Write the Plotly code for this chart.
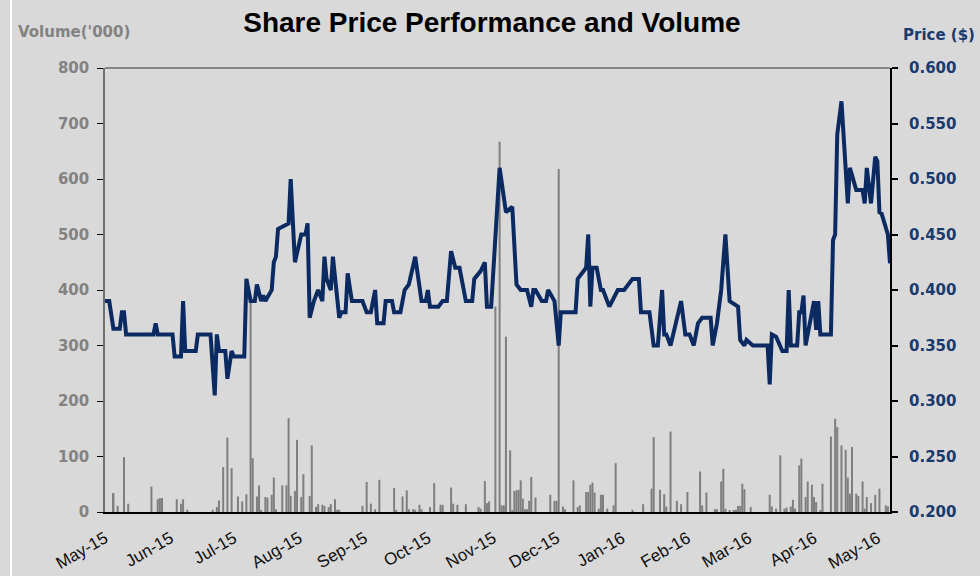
import plotly.graph_objects as go

# ---------------- data ----------------
price_dates = [
    "2015-05-01", "2015-05-03", "2015-05-05", "2015-05-08", "2015-05-09", "2015-05-10", "2015-05-11", "2015-05-24", "2015-05-25", "2015-05-26",
    "2015-06-02", "2015-06-03", "2015-06-06", "2015-06-07", "2015-06-08", "2015-06-13", "2015-06-14", "2015-06-20", "2015-06-22", "2015-06-23",
    "2015-06-24", "2015-06-27", "2015-06-28", "2015-06-30", "2015-07-01", "2015-07-06", "2015-07-07", "2015-07-09", "2015-07-11", "2015-07-12",
    "2015-07-14", "2015-07-15", "2015-07-16", "2015-07-19", "2015-07-20", "2015-07-21", "2015-07-22", "2015-07-27", "2015-07-28", "2015-07-30",
    "2015-08-02", "2015-08-04", "2015-08-05", "2015-08-06", "2015-08-08", "2015-08-10", "2015-08-12", "2015-08-13", "2015-08-14", "2015-08-16",
    "2015-08-17", "2015-08-20", "2015-08-21", "2015-08-23", "2015-08-24", "2015-08-26", "2015-08-31", "2015-09-02", "2015-09-04", "2015-09-06",
    "2015-09-07", "2015-09-10", "2015-09-11", "2015-09-14", "2015-09-15", "2015-09-18", "2015-09-20", "2015-09-22", "2015-09-25", "2015-09-28",
    "2015-09-30", "2015-10-01", "2015-10-02", "2015-10-06", "2015-10-08", "2015-10-10", "2015-10-12", "2015-10-14", "2015-10-16", "2015-10-19",
    "2015-10-22", "2015-10-23", "2015-10-26", "2015-10-28", "2015-10-29", "2015-10-31", "2015-11-04", "2015-11-07", "2015-11-10", "2015-11-12",
    "2015-11-14", "2015-11-17", "2015-11-19", "2015-11-20", "2015-11-21", "2015-11-24", "2015-11-26", "2015-11-27", "2015-11-30", "2015-12-02",
    "2015-12-03", "2015-12-10", "2015-12-11", "2015-12-15", "2015-12-16", "2015-12-17", "2015-12-18", "2015-12-20", "2015-12-22", "2015-12-23",
    "2015-12-26", "2015-12-30", "2016-01-02", "2016-01-06", "2016-01-09", "2016-01-10", "2016-01-14", "2016-01-16", "2016-01-18", "2016-01-20",
    "2016-01-21", "2016-01-22", "2016-01-24", "2016-01-28", "2016-01-29", "2016-01-31", "2016-02-02", "2016-02-04", "2016-02-06", "2016-02-08",
    "2016-02-12", "2016-02-13", "2016-02-15", "2016-02-17", "2016-02-19", "2016-02-21", "2016-02-25", "2016-02-26", "2016-02-28", "2016-02-29",
    "2016-03-03", "2016-03-10", "2016-03-11", "2016-03-12", "2016-03-14", "2016-03-17", "2016-03-19", "2016-03-20", "2016-03-21", "2016-03-24",
    "2016-03-25", "2016-03-26", "2016-03-27", "2016-03-28", "2016-03-30", "2016-04-01", "2016-04-02", "2016-04-03", "2016-04-04", "2016-04-09",
    "2016-04-10", "2016-04-11", "2016-04-12", "2016-04-14", "2016-04-17", "2016-04-18", "2016-04-21", "2016-04-24", "2016-04-25", "2016-04-26",
    "2016-04-28", "2016-04-30", "2016-05-01", "2016-05-02", "2016-05-03", "2016-05-06", "2016-05-07",
]
price_values = [
    0.39, 0.39, 0.365, 0.365, 0.38, 0.38, 0.36, 0.36, 0.37, 0.36,
    0.36, 0.34, 0.34, 0.39, 0.345, 0.345, 0.36, 0.36, 0.305, 0.36,
    0.345, 0.345, 0.32, 0.345, 0.34, 0.34, 0.41, 0.39, 0.39, 0.405,
    0.39, 0.395, 0.39, 0.40, 0.425, 0.43, 0.455, 0.46, 0.50, 0.425,
    0.45, 0.45, 0.46, 0.375, 0.39, 0.40, 0.39, 0.43, 0.41, 0.40,
    0.43, 0.375, 0.38, 0.38, 0.415, 0.39, 0.39, 0.38, 0.38, 0.40,
    0.37, 0.37, 0.39, 0.39, 0.38, 0.38, 0.40, 0.405, 0.43, 0.39,
    0.39, 0.40, 0.385, 0.385, 0.39, 0.39, 0.435, 0.42, 0.42, 0.39,
    0.39, 0.41, 0.417, 0.425, 0.385, 0.385, 0.51, 0.47, 0.475, 0.405,
    0.40, 0.40, 0.385, 0.40, 0.40, 0.39, 0.39, 0.40, 0.39, 0.35,
    0.38, 0.38, 0.41, 0.42, 0.45, 0.385, 0.42, 0.42, 0.40, 0.40,
    0.385, 0.40, 0.40, 0.41, 0.41, 0.38, 0.38, 0.35, 0.35, 0.40,
    0.36, 0.36, 0.35, 0.38, 0.39, 0.36, 0.36, 0.35, 0.37, 0.375,
    0.375, 0.35, 0.37, 0.40, 0.45, 0.39, 0.385, 0.355, 0.35, 0.355,
    0.35, 0.35, 0.315, 0.36, 0.358, 0.345, 0.345, 0.40, 0.35, 0.35,
    0.38, 0.38, 0.395, 0.35, 0.37, 0.39, 0.364, 0.39, 0.36, 0.36,
    0.445, 0.45, 0.54, 0.57, 0.478, 0.51, 0.49, 0.49, 0.478, 0.51,
    0.478, 0.52, 0.516, 0.47, 0.469, 0.45, 0.424,
]

volume_dates = [
    "2015-05-05", "2015-05-07", "2015-05-10", "2015-05-12", "2015-05-23", "2015-05-26", "2015-05-27", "2015-05-28",
    "2015-06-04", "2015-06-06", "2015-06-07", "2015-06-09", "2015-06-21", "2015-06-23", "2015-06-24", "2015-06-26", "2015-06-28", "2015-06-30",
    "2015-07-03", "2015-07-05", "2015-07-07", "2015-07-09", "2015-07-10", "2015-07-12", "2015-07-13", "2015-07-14", "2015-07-16", "2015-07-17",
    "2015-07-19", "2015-07-20", "2015-07-21", "2015-07-24", "2015-07-26", "2015-07-27", "2015-07-28", "2015-07-30", "2015-07-31",
    "2015-08-02", "2015-08-03", "2015-08-06", "2015-08-07", "2015-08-09", "2015-08-10", "2015-08-12", "2015-08-13", "2015-08-15", "2015-08-16",
    "2015-08-18", "2015-08-19", "2015-08-20", "2015-08-31",
    "2015-09-02", "2015-09-04", "2015-09-06", "2015-09-08", "2015-09-15", "2015-09-16", "2015-09-19", "2015-09-21", "2015-09-22", "2015-09-24",
    "2015-09-25", "2015-09-27", "2015-09-28",
    "2015-10-02", "2015-10-04", "2015-10-07", "2015-10-08", "2015-10-12", "2015-10-13", "2015-10-15", "2015-10-19", "2015-10-25", "2015-10-26",
    "2015-10-28", "2015-10-29", "2015-10-30",
    "2015-11-02", "2015-11-04", "2015-11-05", "2015-11-06", "2015-11-07", "2015-11-09", "2015-11-10", "2015-11-11", "2015-11-12", "2015-11-13",
    "2015-11-14", "2015-11-15", "2015-11-16", "2015-11-17", "2015-11-18", "2015-11-19", "2015-11-21", "2015-11-28", "2015-11-30",
    "2015-12-01", "2015-12-02", "2015-12-04", "2015-12-05", "2015-12-09", "2015-12-11", "2015-12-12", "2015-12-15", "2015-12-16", "2015-12-17",
    "2015-12-18", "2015-12-19", "2015-12-21", "2015-12-22", "2015-12-23", "2015-12-25", "2015-12-28", "2015-12-29",
    "2016-01-06", "2016-01-11", "2016-01-15", "2016-01-16", "2016-01-19", "2016-01-21", "2016-01-22", "2016-01-24", "2016-01-27", "2016-01-29",
    "2016-02-01", "2016-02-07", "2016-02-08", "2016-02-10", "2016-02-14", "2016-02-15", "2016-02-17", "2016-02-18", "2016-02-19", "2016-02-21",
    "2016-02-23", "2016-02-24", "2016-02-25", "2016-02-26", "2016-02-27", "2016-02-28",
    "2016-03-02", "2016-03-11", "2016-03-12", "2016-03-14", "2016-03-16", "2016-03-18", "2016-03-19", "2016-03-21", "2016-03-22", "2016-03-23",
    "2016-03-25", "2016-03-26", "2016-03-28", "2016-03-29", "2016-03-31",
    "2016-04-01", "2016-04-02", "2016-04-04", "2016-04-05", "2016-04-09", "2016-04-11", "2016-04-12", "2016-04-14", "2016-04-16", "2016-04-17",
    "2016-04-18", "2016-04-19", "2016-04-21", "2016-04-22", "2016-04-24", "2016-04-25", "2016-04-26", "2016-04-28", "2016-04-30",
    "2016-05-02", "2016-05-05", "2016-05-06",
]
volume_values = [
    34, 11, 99, 15, 46, 23, 25, 25,
    23, 15, 23, 4, 4, 9, 21, 81, 134, 79,
    28, 19, 32, 390, 97, 28, 48, 4, 27, 26,
    31, 62, 5, 48, 48, 169, 29, 38, 130,
    27, 68, 29, 120, 9, 14, 13, 11, 9, 14,
    23, 4, 4, 11,
    54, 15, 5, 58, 43, 4, 28, 39, 5, 5,
    4, 13, 5,
    9, 52, 13, 13, 44, 15, 13, 14, 9, 6,
    56, 16, 19,
    370, 667, 12, 12, 316, 111, 3, 38, 39, 40,
    57, 24, 5, 5, 20, 63, 26, 31, 20,
    20, 618, 10, 5, 57, 9, 12, 36, 36, 49,
    53, 35, 6, 31, 31, 6, 12, 88,
    4, 14, 42, 135, 40, 32, 10, 145, 20, 14,
    36, 73, 12, 35, 5, 5, 55, 78, 6, 2,
    2, 4, 11, 11, 51, 41,
    9, 31, 10, 6, 102, 6, 8, 10, 22, 6,
    84, 96, 27, 55, 49,
    27, 18, 2, 51, 136, 168, 153, 120, 112, 62,
    33, 117, 33, 29, 55, 6, 27, 16, 31,
    42, 12, 10,
]

month_ticks = ["2015-05-01", "2015-06-01", "2015-07-01", "2015-08-01", "2015-09-01", "2015-10-01", "2015-11-01",
               "2015-12-01", "2016-01-01", "2016-02-01", "2016-03-01", "2016-04-01", "2016-05-01"]
month_labels = ["May-15", "Jun-15", "Jul-15", "Aug-15", "Sep-15", "Oct-15", "Nov-15",
                "Dec-15", "Jan-16", "Feb-16", "Mar-16", "Apr-16", "May-16"]

assert len(price_dates) == len(price_values)
assert len(volume_dates) == len(volume_values)

# ---------------- styling ----------------
FONT = "Liberation Sans, Arial, sans-serif"
WIDE = "DejaVu Sans, Verdana, sans-serif"
BG = "#d9d9d9"
NAVY = "#0b2a62"
NAVY_TEXT = "#1a3a6e"
GRAY_TEXT = "#828282"
BAR = "#7f7f7f"

fig = go.Figure()
fig.add_trace(go.Bar(
    x=volume_dates, y=volume_values, yaxis="y",
    marker=dict(color=BAR, line=dict(width=0)),
    width=0.95 * 86400000, name="Volume",
))
fig.add_trace(go.Scatter(
    x=price_dates, y=price_values, yaxis="y2", mode="lines",
    line=dict(color=NAVY, width=4), name="Price",
))

fig.update_layout(
    width=980, height=576,
    margin=dict(l=105, r=90, t=68, b=64, autoexpand=False),
    paper_bgcolor=BG, plot_bgcolor=BG,
    showlegend=False,
    font=dict(family=FONT),
    title=dict(text="Share Price Performance and Volume", x=0.502, y=0.962,
               xanchor="center", yanchor="middle",
               font=dict(family=FONT, size=28, color="#000000", weight="bold")),
    xaxis=dict(
        type="date", range=["2015-05-01", "2016-05-07"],
        tickmode="array", tickvals=month_ticks, ticktext=month_labels,
        tickangle=-30, tickfont=dict(family=FONT, size=17, color="#111111"),
        ticklabelstandoff=8, ticklabelshift=0, automargin=False,
        showline=True, linecolor="#000000", linewidth=2,
        ticks="", showgrid=False, zeroline=False,
    ),
    yaxis=dict(
        range=[0, 800], tickmode="linear", tick0=0, dtick=100,
        tickfont=dict(family=WIDE, size=15, color=GRAY_TEXT, weight="bold"),
        ticklabelstandoff=5, automargin=False,
        showline=True, linecolor="#6f6f6f", linewidth=1.5,
        ticks="outside", ticklen=6, tickwidth=1, tickcolor="#000000",
        showgrid=False, zeroline=False,
    ),
    yaxis2=dict(
        overlaying="y", side="right",
        range=[0.2, 0.6], tickmode="linear", tick0=0.2, dtick=0.05, tickformat=".3f",
        tickfont=dict(family=WIDE, size=15, color=NAVY_TEXT, weight="bold"),
        ticklabelstandoff=8, automargin=False,
        showline=True, linecolor="#000000", linewidth=2,
        ticks="outside", ticklen=6, tickwidth=2, tickcolor="#000000",
        showgrid=False, zeroline=False,
    ),
    shapes=[
        dict(type="line", xref="paper", yref="paper", x0=0, x1=1, y0=1, y1=1,
             line=dict(color="#303030", width=1)),
        dict(type="line", xref="paper", yref="paper", x0=-0.1197, x1=-0.1197, y0=-0.2, y1=1.2,
             line=dict(color="#ffffff", width=2)),
    ],
    annotations=[
        dict(text="Volume('000)", xref="paper", yref="paper", x=-0.1134, y=1.081,
             xanchor="left", yanchor="middle", showarrow=False,
             font=dict(family=WIDE, size=15, color=GRAY_TEXT, weight="bold")),
        dict(text="Price ($)", xref="paper", yref="paper", x=1.111, y=1.074,
             xanchor="right", yanchor="middle", showarrow=False,
             font=dict(family=WIDE, size=15, color=NAVY_TEXT, weight="bold")),
    ],
)

fig.write_html(
    "out.html",
    config={"displayModeBar": False},
    post_script="document.body.style.margin='0px';document.body.style.overflow='hidden';",
)
